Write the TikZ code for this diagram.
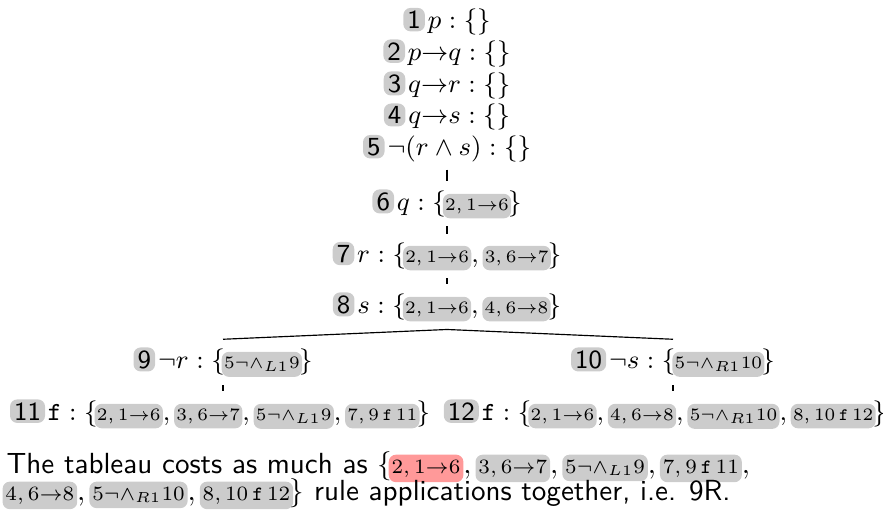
\documentclass[tikz,border=0pt]{standalone}
\usepackage{amsmath,amssymb}
\usepackage{xcolor}
\usepackage{tikz}
\usetikzlibrary{positioning}

\tikzset{
    numbox/.style={fill=gray!40, rounded corners=2.5pt, inner xsep=1.4pt, inner ysep=1pt, font=\sffamily\small},
    rulebox/.style={fill=gray!40, rounded corners=2.5pt, inner xsep=0.8pt, inner ysep=1.7pt, font=\fontsize{6}{7}\selectfont},
    costbox/.style={inner xsep=1pt, inner ysep=1.8pt, font=\scriptsize}
}
\newcommand{\tabnum}[1]{\tikz[baseline=(n.base)]\node[numbox](n){#1};\kern1pt}
\newcommand{\tabrule}[2][]{\tikz[baseline=(m.base)]\node[rulebox,#1](m){$#2$};}
\newcommand{\rs}{{,}\mskip2.5mu}
\newcommand{\bopen}{\{\mskip-2mu}
\newcommand{\bclose}{\mskip-2mu\}}

\begin{document}
\begin{tikzpicture}[
    x=0.01208cm, y=-0.01208cm,
    row/.style={anchor=base, font=\small, inner ysep=2.6pt},
    costline/.style={anchor=base west, inner sep=0pt, font=\sffamily}
]
\useasboundingbox (0,0) rectangle (883,516);

% premises
\node[row] (r1) at (447,28.5) {\tabnum{1}$p : \{\}$};
\node[row] (r2) at (447,60) {\tabnum{2}$p{\to}q : \{\}$};
\node[row] (r3) at (447,92) {\tabnum{3}$q{\to}r : \{\}$};
\node[row] (r4) at (447,123.5) {\tabnum{4}$q{\to}s : \{\}$};
\node[row] (r5) at (447,155) {\tabnum{5}$\neg(r\wedge s) : \{\}$};

% trunk
\node[row] (r6) at (447,210) {\tabnum{6}$q : \bopen\tabrule{2,1{\to}6}\bclose$};
\node[row] (r7) at (447,262) {\tabnum{7}$r : \bopen\tabrule{2,1{\to}6}\rs\tabrule{3,6{\to}7}\bclose$};
\node[row] (r8) at (447,313) {\tabnum{8}$s : \bopen\tabrule{2,1{\to}6}\rs\tabrule{4,6{\to}8}\bclose$};

% branches
\node[row] (r9) at (223,368) {\tabnum{9}$\neg r : \bopen\tabrule{5\neg{\wedge}_{L1}9}\bclose$};
\node[row] (r10) at (673,368) {\tabnum{10}$\neg s : \bopen\tabrule{5\neg{\wedge}_{R1}10}\bclose$};
\node[row] (r11) at (220,420) {\tabnum{11}$\mathtt{f} : \bopen\tabrule{2,1{\to}6}\rs\tabrule{3,6{\to}7}\rs\tabrule{5\neg{\wedge}_{L1}9}\rs\tabrule{7,9\,\mathtt{f}\,11}\bclose$};
\node[row] (r12) at (665,420) {\tabnum{12}$\mathtt{f} : \bopen\tabrule{2,1{\to}6}\rs\tabrule{4,6{\to}8}\rs\tabrule{5\neg{\wedge}_{R1}10}\rs\tabrule{8,10\,\mathtt{f}\,12}\bclose$};

\draw (r5.south) -- (r6.north);
\draw (r6.south) -- (r7.north);
\draw (r7.south) -- (r8.north);
\draw (r8.south) -- (r9.north);
\draw (r8.south) -- (r10.north);
\draw (r9.south) -- (r9.south |- r11.north);
\draw (r10.south) -- (r10.south |- r12.north);

% cost
\node[costline] (cost1) at (6,473) {The tableau costs as much as $\bopen\tabrule[costbox, fill=red!40]{2,1{\to}6}\rs\tabrule[costbox]{3,6{\to}7}\rs\tabrule[costbox]{5\neg{\wedge}_{L1}9}\rs\tabrule[costbox]{7,9\,\mathtt{f}\,11}\rs$};
\node[costline] (cost2) at (2,500) {$\tabrule[costbox]{4,6{\to}8}\rs\tabrule[costbox]{5\neg{\wedge}_{R1}10}\rs\tabrule[costbox]{8,10\,\mathtt{f}\,12}\bclose$ rule applications together, i.e. 9R.};

\end{tikzpicture}
\end{document}
